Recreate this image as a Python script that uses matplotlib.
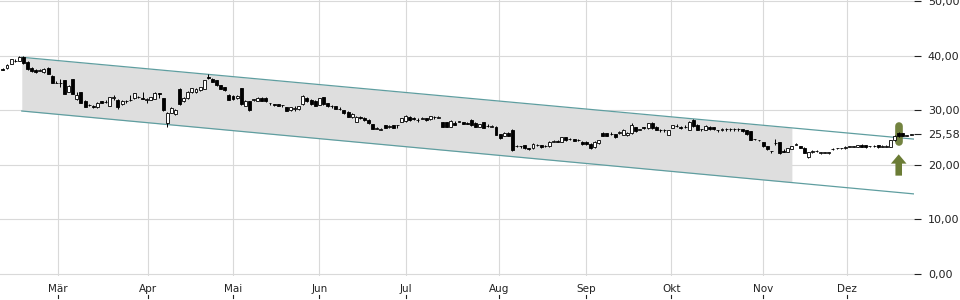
import numpy as np
import matplotlib.pyplot as plt
from matplotlib.transforms import blended_transform_factory

# Daily candles (open, high, low, close)
opens = [37.6, 37.7, 38.5, 39.0, 39.1, 39.8, 38.9, 37.8, 37.4, 37.2,
         37.0, 37.8, 36.3, 35.0, 34.9, 35.5, 33.4, 35.7, 32.0, 33.3,
         31.7, 31.0, 30.8, 30.5, 31.6, 31.5, 30.8, 32.3, 31.9, 31.1,
         31.6, 31.8, 32.2, 32.4, 32.3, 31.9, 31.9, 32.1, 33.1, 32.2,
         27.7, 29.5, 29.3, 33.8, 31.6, 32.2, 33.3, 33.3, 33.7, 33.9,
         36.0, 35.8, 35.5, 34.6, 34.2, 32.8, 32.6, 32.2, 34.0, 30.8,
         31.6, 31.9, 31.7, 32.3, 32.3, 31.3, 31.1, 31.1, 30.9, 30.5,
         30.0, 30.3, 30.2, 31.1, 32.3, 31.9, 31.7, 31.0, 32.4, 31.3,
         30.7, 30.7, 30.2, 30.0, 29.7, 28.7, 27.9, 28.8, 28.6, 28.2,
         27.4, 26.6, 26.4, 27.2, 27.0, 27.2, 27.2, 27.9, 28.0, 28.8,
         28.6, 28.2, 28.4, 28.5, 28.3, 28.7, 28.6, 27.8, 27.8, 27.0,
         27.7, 27.9, 27.8, 27.7, 28.2, 27.7, 27.0, 27.8, 27.1, 27.0,
         27.0, 25.6, 25.3, 25.9, 26.4, 23.4, 23.4, 23.6, 23.0, 23.0,
         23.6, 23.6, 23.4, 23.4, 24.2, 24.4, 24.2, 25.0, 24.7, 24.7,
         24.5, 24.2, 24.2, 23.8, 23.2, 23.9, 25.9, 25.8, 25.6, 25.6,
         25.9, 25.5, 25.4, 25.8, 26.9, 26.4, 26.9, 26.7, 27.7, 27.0,
         26.3, 26.3, 25.5, 26.8, 27.1, 27.0, 26.9, 26.4, 28.2, 27.3,
         26.5, 26.4, 27.0, 26.9, 26.3, 26.4, 26.5, 26.5, 26.5, 26.5,
         26.5, 26.3, 26.1, 24.7, 24.5, 24.1, 23.4, 22.5, 23.9, 24.1,
         22.6, 22.4, 22.9, 23.7, 23.4, 23.1, 21.5, 22.3, 22.5, 22.2,
         22.2, 22.1, 22.8, 23.0, 23.0, 23.0, 23.3, 23.3, 23.3, 23.7,
         23.6, 23.4, 23.4, 23.6, 23.3, 23.3, 23.3, 24.5, 25.8, 25.8,
         25.3, 25.5]
highs = [37.7, 38.4, 39.4, 39.3, 39.9, 39.9, 39.0, 38.0, 37.5, 37.6,
         37.7, 37.9, 36.4, 35.3, 35.7, 35.6, 34.6, 35.8, 33.4, 33.4,
         31.8, 31.2, 31.0, 31.5, 31.7, 31.9, 32.5, 32.7, 32.0, 31.8,
         31.9, 32.8, 33.2, 32.6, 33.3, 32.2, 32.5, 33.4, 33.2, 32.3,
         29.6, 30.6, 30.3, 34.1, 32.4, 33.5, 34.1, 34.0, 34.3, 35.6,
         36.6, 35.9, 35.6, 34.7, 34.3, 32.9, 32.7, 32.7, 34.1, 31.8,
         31.7, 32.1, 32.4, 32.4, 32.4, 31.4, 31.2, 31.2, 31.0, 30.6,
         30.6, 30.8, 30.8, 32.7, 32.4, 32.0, 31.8, 32.3, 32.5, 31.4,
         31.0, 30.8, 30.6, 30.1, 29.8, 29.4, 28.9, 28.9, 28.7, 28.3,
         27.5, 26.9, 26.7, 27.3, 27.2, 27.3, 27.3, 28.6, 29.1, 28.9,
         28.7, 28.5, 28.8, 28.6, 29.0, 29.0, 28.9, 27.9, 27.9, 28.2,
         28.0, 28.0, 27.9, 27.8, 28.4, 27.8, 27.5, 27.9, 27.4, 27.3,
         27.1, 25.7, 26.0, 26.0, 26.5, 23.7, 23.5, 23.7, 23.1, 23.9,
         23.8, 23.7, 23.7, 24.3, 24.5, 24.5, 25.1, 25.1, 24.9, 24.8,
         24.7, 24.3, 24.3, 23.9, 24.3, 24.6, 26.0, 25.9, 26.0, 25.7,
         26.1, 26.5, 26.0, 27.6, 27.0, 26.5, 27.0, 27.7, 27.8, 27.1,
         26.6, 26.6, 26.4, 27.3, 27.4, 27.1, 27.2, 28.0, 28.3, 27.4,
         26.6, 27.2, 27.1, 27.0, 26.4, 26.7, 26.8, 26.8, 26.8, 26.8,
         26.6, 26.4, 26.2, 24.8, 24.6, 24.2, 23.5, 22.6, 24.7, 24.2,
         22.9, 23.1, 23.5, 24.0, 23.5, 23.2, 22.4, 22.7, 22.7, 22.4,
         22.3, 22.4, 23.1, 23.1, 23.1, 23.4, 23.4, 23.4, 23.7, 23.8,
         23.7, 23.5, 23.7, 23.7, 23.6, 23.6, 24.6, 25.4, 26.0, 25.9,
         25.4, 25.7]
lows = [37.3, 37.6, 38.4, 38.8, 39.0, 38.5, 37.4, 37.0, 36.9, 37.1,
        36.9, 36.6, 34.9, 34.9, 34.2, 32.9, 33.3, 32.9, 31.9, 31.3,
        30.5, 30.7, 30.4, 30.4, 31.3, 31.4, 30.7, 31.9, 30.2, 31.0,
        31.3, 31.7, 32.1, 32.3, 32.0, 31.4, 31.8, 32.0, 32.2, 29.8,
        26.9, 29.4, 29.2, 31.0, 31.5, 32.1, 33.2, 33.2, 33.6, 33.8,
        35.8, 35.1, 34.5, 33.8, 33.6, 31.8, 31.9, 32.1, 31.0, 30.7,
        29.9, 31.6, 31.6, 31.6, 31.5, 31.0, 30.8, 30.7, 30.6, 29.8,
        29.9, 29.9, 30.1, 31.0, 31.5, 31.0, 30.7, 30.9, 31.0, 30.6,
        30.4, 30.2, 30.1, 29.3, 28.7, 28.6, 27.8, 28.4, 28.1, 27.5,
        26.5, 26.5, 26.3, 26.7, 26.8, 26.7, 26.8, 27.8, 27.9, 28.1,
        28.2, 27.9, 28.3, 28.1, 28.2, 28.4, 28.5, 26.9, 26.9, 26.9,
        27.2, 27.8, 27.4, 27.4, 27.1, 26.9, 26.9, 26.7, 27.0, 26.9,
        25.4, 24.8, 25.2, 25.2, 22.5, 23.3, 23.1, 22.9, 22.7, 22.9,
        23.4, 23.1, 23.3, 23.3, 24.1, 24.1, 24.1, 24.4, 24.5, 24.3,
        24.3, 23.7, 23.7, 22.9, 23.1, 23.8, 25.2, 25.2, 25.5, 24.9,
        25.7, 25.4, 25.3, 25.7, 26.0, 26.3, 26.6, 26.6, 26.6, 26.3,
        26.0, 26.0, 25.4, 26.7, 27.0, 26.6, 26.8, 26.3, 27.0, 26.3,
        26.2, 26.3, 26.4, 26.4, 26.0, 26.1, 26.2, 26.2, 26.2, 26.2,
        26.0, 25.5, 24.5, 24.6, 24.4, 23.3, 22.7, 22.2, 23.6, 22.0,
        22.3, 22.3, 22.8, 23.6, 23.0, 22.1, 21.3, 22.2, 22.3, 22.0,
        22.1, 22.0, 22.7, 22.9, 22.9, 22.9, 23.2, 23.2, 23.2, 23.2,
        23.1, 23.3, 23.3, 23.1, 23.2, 23.2, 23.2, 24.4, 25.1, 25.2,
        25.2, 25.4]
closes = [37.4, 38.3, 39.3, 39.1, 39.8, 38.6, 37.5, 37.1, 37.0, 37.2,
          37.6, 36.7, 35.0, 34.9, 35.0, 33.0, 34.5, 33.0, 32.8, 31.4,
          30.6, 30.9, 30.5, 31.4, 31.4, 31.5, 32.4, 32.3, 30.5, 31.7,
          31.6, 31.8, 33.1, 32.4, 32.1, 31.9, 32.4, 33.2, 33.0, 30.0,
          29.5, 30.4, 30.1, 31.1, 32.2, 33.4, 34.0, 33.9, 34.2, 35.5,
          35.9, 35.2, 34.6, 33.9, 33.7, 31.9, 32.0, 32.6, 31.1, 31.7,
          30.0, 31.9, 32.3, 31.7, 31.6, 31.3, 30.9, 30.8, 30.9, 29.9,
          30.5, 30.3, 30.7, 32.6, 31.6, 31.1, 30.8, 32.2, 31.1, 30.7,
          30.7, 30.3, 30.2, 29.4, 28.8, 29.3, 28.8, 28.5, 28.2, 27.6,
          26.6, 26.6, 26.4, 26.8, 27.0, 26.8, 27.2, 28.5, 29.0, 28.2,
          28.3, 28.2, 28.4, 28.2, 28.9, 28.7, 28.6, 27.0, 27.0, 28.1,
          27.3, 27.9, 27.5, 27.5, 27.2, 27.0, 27.4, 26.8, 27.1, 27.0,
          25.5, 24.9, 25.9, 25.3, 22.7, 23.4, 23.4, 23.0, 22.8, 23.8,
          23.6, 23.2, 23.4, 24.2, 24.2, 24.2, 25.0, 24.5, 24.7, 24.4,
          24.5, 23.8, 23.8, 23.0, 24.2, 24.5, 25.3, 25.3, 25.6, 25.0,
          25.9, 26.3, 25.9, 27.3, 26.1, 26.4, 26.7, 27.6, 26.7, 26.4,
          26.3, 26.3, 26.3, 27.2, 27.1, 26.7, 26.9, 27.9, 27.1, 26.4,
          26.5, 27.1, 26.5, 26.5, 26.3, 26.4, 26.5, 26.5, 26.5, 26.5,
          26.1, 25.6, 24.6, 24.7, 24.5, 23.4, 22.8, 22.5, 23.9, 22.1,
          22.4, 23.0, 23.4, 23.7, 23.1, 22.2, 22.3, 22.6, 22.5, 22.2,
          22.2, 22.3, 22.8, 23.0, 23.0, 23.3, 23.3, 23.3, 23.6, 23.3,
          23.2, 23.4, 23.4, 23.2, 23.3, 23.3, 24.5, 25.3, 25.2, 25.3,
          25.3, 25.58]

# month labels and the candle index where each month begins
month_labels = ['Mär', 'Apr', 'Mai', 'Jun', 'Jul', 'Aug', 'Sep', 'Okt', 'Nov', 'Dez']
month_starts = [13.4, 35.4, 56, 77, 98, 120.7, 142, 162.7, 185, 205.4]

# trend channel: candle index of both ends, price at both ends
channel_x = [4.6, 221.7]
channel_upper = [39.7, 24.7]
channel_lower = [29.85, 14.65]
shade_end = 192

signal_idx = 218
y_ticks = [0, 10, 20, 30, 40, 50]

grid_col = '#d9d9d9'
line_col = '#5f9ea0'
green = '#6b7c35'

fig = plt.figure(figsize=(9.6, 3), dpi=100)
ax = fig.add_axes([0, 0.08, 0.952, 0.92])
ax.set_xlim(-0.7, 221.7)
ax.set_ylim(-0.4, 50.2)

for m in month_starts:
    ax.axvline(m, color=grid_col, lw=0.8, zorder=0)
for t in y_ticks:
    ax.axhline(t, color=grid_col, lw=0.8, zorder=0)

# channel
xs = np.array([channel_x[0], shade_end])
ax.fill_between(xs, np.interp(xs, channel_x, channel_lower),
                np.interp(xs, channel_x, channel_upper),
                color='#dedede', lw=0, zorder=1)
ax.plot(channel_x, channel_upper, color=line_col, lw=0.9, zorder=2)
ax.plot(channel_x, channel_lower, color=line_col, lw=0.9, zorder=2)

# highlight of the signal candle
ax.plot([signal_idx, signal_idx], [lows[signal_idx] - 0.9, highs[signal_idx] + 1.1],
        color=green, lw=5.5, solid_capstyle='round', alpha=0.95, zorder=2.5)

# candles
o = np.array(opens)
c = np.array(closes)
x = np.arange(len(c))
ax.vlines(x, lows, highs, color='black', lw=0.7, zorder=3)
body = np.maximum(np.abs(c - o), 0.08)
cols = np.where(c >= o, 'white', 'black')
ax.bar(x, body, bottom=np.minimum(o, c), width=0.72, color=cols,
       edgecolor='black', linewidth=0.6, zorder=4)

# signal arrow
ax.arrow(signal_idx, lows[signal_idx] - 7.1, 0, 3.9, width=1.6, head_width=3.8,
         head_length=1.7, length_includes_head=True, color=green, lw=0, zorder=5)

# axes
for s in ax.spines.values():
    s.set_visible(False)
ax.yaxis.tick_right()
yt = y_ticks + [closes[-1]]
ax.set_yticks(yt, [f'{v:.2f}'.replace('.', ',') for v in yt])
ax.tick_params(axis='y', length=5, width=0.8, color='#222222', pad=5,
               labelsize=8, labelcolor='#222222')
ax.set_xticks(month_starts, month_labels)
ax.tick_params(axis='x', length=0, pad=6, labelsize=7.5, labelcolor='#222222')

trans = blended_transform_factory(ax.transData, ax.transAxes)
for m in month_starts:
    ax.plot([m, m], [-0.068, -0.08], transform=trans, color='#222222', lw=0.8, clip_on=False)

fig.savefig('out.png', dpi=100)
